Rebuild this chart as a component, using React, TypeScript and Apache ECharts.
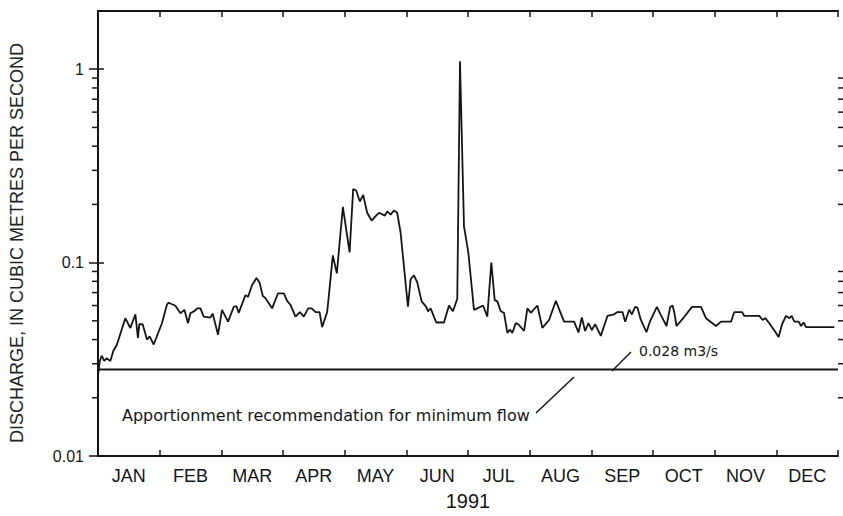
import React, { useEffect, useRef } from "react";
import * as echarts from "echarts";

const months = ["JAN", "FEB", "MAR", "APR", "MAY", "JUN", "JUL", "AUG", "SEP", "OCT", "NOV", "DEC"];
const yearLabel = "1991";
const yTitle = "DISCHARGE, IN CUBIC METRES PER SECOND";
const minFlow = 0.028;
const minFlowLabel = "0.028 m3/s";
const minFlowNote = "Apportionment recommendation for minimum flow";
const majorTickLabels: Record<string, string> = { "-2": "0.01", "-1": "0.1", "0": "1" };
const minorTickValues = [0.02, 0.03, 0.04, 0.05, 0.06, 0.07, 0.08, 0.09, 0.2, 0.3, 0.4, 0.5, 0.6, 0.7, 0.8, 0.9];

// position in months from 1 January (0 = Jan 1, 12 = Jan 1 next year)
const monthPos = [
  0.0, 0.03, 0.06, 0.1, 0.14, 0.2, 0.25, 0.307,
  0.443, 0.524, 0.606, 0.648, 0.67, 0.724, 0.794, 0.838, 0.903,
  1.037, 1.119, 1.146, 1.255, 1.336, 1.401, 1.459, 1.498, 1.568, 1.606, 1.661, 1.714, 1.823, 1.86, 1.946,
  2.011, 2.109, 2.201, 2.245, 2.282, 2.391, 2.433, 2.498, 2.57, 2.619, 2.672, 2.716, 2.823, 2.92,
  3.013, 3.067, 3.122, 3.203, 3.273, 3.338, 3.408, 3.463, 3.528, 3.593, 3.635, 3.716, 3.734, 3.808, 3.873, 3.971,
  4.08, 4.138, 4.187, 4.247, 4.3, 4.365, 4.437, 4.502, 4.555, 4.653, 4.69, 4.745, 4.799, 4.852, 4.907,
  5.026, 5.07, 5.123, 5.177, 5.248, 5.323, 5.351, 5.394, 5.485, 5.61, 5.692, 5.756, 5.826, 5.87, 5.935,
  6.005, 6.097, 6.151, 6.244, 6.313, 6.378, 6.433, 6.476, 6.531, 6.584, 6.638, 6.677, 6.719, 6.774, 6.817, 6.909, 6.963,
  7.018, 7.125, 7.206, 7.315, 7.424, 7.558, 7.721, 7.791, 7.846, 7.899, 7.953,
  8.008, 8.062, 8.154, 8.261, 8.37, 8.424, 8.505, 8.549, 8.614, 8.657, 8.711, 8.748, 8.803, 8.894, 8.95,
  9.063, 9.128, 9.219, 9.279, 9.317, 9.344, 9.382, 9.49, 9.632, 9.778, 9.859,
  10.021, 10.102, 10.265, 10.318, 10.443, 10.481, 10.724, 10.778, 10.821, 10.886, 10.968,
  11.037, 11.093, 11.157, 11.211, 11.248, 11.292, 11.362, 11.401, 11.443, 11.482, 11.942,
];

// daily discharge, m3/s
const discharge = [
  0.026, 0.031, 0.033, 0.031, 0.032, 0.031, 0.035, 0.0377,
  0.0516, 0.0459, 0.054, 0.0408, 0.0481, 0.048, 0.04, 0.0416, 0.0377,
  0.0486, 0.0608, 0.062, 0.0598, 0.0547, 0.057, 0.0486, 0.0547, 0.0563, 0.058, 0.058, 0.0526, 0.052, 0.0545, 0.0424,
  0.057, 0.0495, 0.059, 0.0595, 0.055, 0.0679, 0.0665, 0.0763, 0.0832, 0.079, 0.0673, 0.0654, 0.058, 0.0694,
  0.0694, 0.0634, 0.0604, 0.0526, 0.0555, 0.0526, 0.058, 0.058, 0.0555, 0.0555, 0.0464, 0.0555, 0.063, 0.109, 0.088, 0.194,
  0.113, 0.24, 0.236, 0.207, 0.224, 0.181, 0.165, 0.174, 0.181, 0.175, 0.184, 0.177, 0.186, 0.181, 0.143,
  0.0591, 0.082, 0.086, 0.079, 0.063, 0.059, 0.056, 0.058, 0.049, 0.049, 0.06, 0.056, 0.065, 1.1, 0.154,
  0.113, 0.057, 0.058, 0.06, 0.0526, 0.1, 0.064, 0.063, 0.056, 0.055, 0.0433, 0.045, 0.0433, 0.0486, 0.048, 0.0443, 0.058,
  0.055, 0.06, 0.046, 0.0505, 0.0634, 0.0495, 0.0495, 0.0435, 0.052, 0.0443, 0.0486,
  0.0448, 0.048, 0.0418, 0.053, 0.054, 0.0555, 0.0555, 0.0495, 0.057, 0.054, 0.059, 0.0585, 0.0505, 0.0437, 0.0495,
  0.059, 0.0535, 0.047, 0.059, 0.06, 0.0555, 0.047, 0.0516, 0.059, 0.059, 0.0516,
  0.047, 0.0495, 0.0495, 0.0555, 0.0555, 0.053, 0.053, 0.0505, 0.0516, 0.0486, 0.0445,
  0.0412, 0.048, 0.053, 0.0516, 0.053, 0.0495, 0.0495, 0.047, 0.049, 0.0464, 0.0464,
];

const INK = "#151515";

export default function App() {
  const ref = useRef<HTMLDivElement>(null);

  useEffect(() => {
    if (!ref.current) return;
    const chart = echarts.init(ref.current, undefined, { renderer: "svg" });

    const lineData = monthPos.map((m, i) => [m, discharge[i]]);
    const minFlowData = [[0, minFlow], [12, minFlow]];
    const minorData = minorTickValues.map((v) => [0, v]);

    const fmtY = (v: number) => {
      const e = Math.log10(v);
      const r = Math.round(e);
      if (Math.abs(e - r) > 1e-6) return "";
      return majorTickLabels[String(r)] ?? "";
    };

    chart.setOption({
      animation: false,
      backgroundColor: "#ffffff",
      grid: { left: 98, right: 5, top: 11, bottom: 53, containLabel: false },
      xAxis: [
        {
          type: "value",
          min: 0,
          max: 12,
          interval: 1,
          position: "bottom",
          axisLine: { show: true, lineStyle: { color: INK, width: 2 } },
          axisTick: { show: true, inside: true, length: 6, lineStyle: { color: INK, width: 1.5 } },
          axisLabel: { show: false },
          splitLine: { show: false },
        },
        {
          type: "value",
          min: 0,
          max: 12,
          interval: 1,
          position: "top",
          axisLine: { show: true, lineStyle: { color: INK, width: 2 } },
          axisTick: { show: true, inside: true, length: 6, lineStyle: { color: INK, width: 1.5 } },
          axisLabel: { show: false },
          splitLine: { show: false },
        },
        {
          type: "category",
          data: months,
          position: "bottom",
          boundaryGap: true,
          axisLine: { show: false },
          axisTick: { show: false },
          splitLine: { show: false },
          axisLabel: {
            show: true,
            interval: 0,
            margin: 11,
            color: INK,
            fontSize: 18,
            fontFamily: "Liberation Sans",
          },
          name: yearLabel,
          nameLocation: "middle",
          nameGap: 35,
          nameTextStyle: { color: INK, fontSize: 20, fontFamily: "Liberation Sans", padding: 0 },
        },
      ],
      yAxis: [
        {
          type: "log",
          logBase: 10,
          min: 0.01,
          max: 2,
          position: "left",
          axisLine: { show: true, lineStyle: { color: INK, width: 2 } },
          axisTick: { show: true, inside: false, length: 9, lineStyle: { color: INK, width: 1.5 } },
          axisLabel: {
            show: true,
            margin: 14,
            color: INK,
            fontSize: 16,
            fontFamily: "Liberation Sans",
            formatter: fmtY,
            showMaxLabel: false,
          },
          splitLine: { show: false },
          minorTick: { show: false },
        },
        {
          type: "log",
          logBase: 10,
          min: 0.01,
          max: 2,
          position: "right",
          axisLine: { show: true, lineStyle: { color: INK, width: 2 } },
          axisTick: { show: true, inside: false, length: 6, lineStyle: { color: INK, width: 1.5 } },
          axisLabel: { show: false },
          splitLine: { show: false },
        },
      ],
      series: [
        {
          type: "line",
          xAxisIndex: 0,
          yAxisIndex: 0,
          data: lineData,
          showSymbol: false,
          symbol: "none",
          lineStyle: { color: INK, width: 1.8 },
          silent: true,
        },
        {
          type: "line",
          xAxisIndex: 0,
          yAxisIndex: 0,
          data: minFlowData,
          showSymbol: false,
          symbol: "none",
          lineStyle: { color: INK, width: 1.8 },
          silent: true,
        },
        {
          type: "custom",
          xAxisIndex: 0,
          yAxisIndex: 0,
          clip: false,
          silent: true,
          data: minorData,
          renderItem: (params: any, api: any) => {
            const v = api.value(1);
            const p = api.coord([0, v]);
            const q = api.coord([12, v]);
            return {
              type: "group",
              children: [
                {
                  type: "line",
                  shape: { x1: p[0] - 6, y1: p[1], x2: p[0], y2: p[1] },
                  style: { stroke: INK, lineWidth: 1.5 },
                },
                {
                  type: "line",
                  shape: { x1: q[0], y1: q[1], x2: q[0] + 6, y2: q[1] },
                  style: { stroke: INK, lineWidth: 1.5 },
                },
              ],
            };
          },
        },
      ],
      graphic: [
        {
          type: "text",
          x: 17,
          y: 243,
          rotation: Math.PI / 2,
          style: {
            text: yTitle,
            fill: "#222",
            fontSize: 18,
            fontFamily: "Liberation Sans",
            align: "center",
            verticalAlign: "middle",
          },
        },
        {
          type: "text",
          x: 122,
          y: 415,
          style: {
            text: minFlowNote,
            fill: INK,
            fontSize: 16,
            fontFamily: "DejaVu Sans",
            align: "left",
            verticalAlign: "middle",
          },
        },
        {
          type: "line",
          shape: { x1: 536, y1: 413, x2: 574, y2: 377 },
          style: { stroke: INK, lineWidth: 1.5 },
        },
        {
          type: "line",
          shape: { x1: 612, y1: 371, x2: 631, y2: 352 },
          style: { stroke: INK, lineWidth: 1.5 },
        },
        {
          type: "text",
          x: 639,
          y: 351,
          style: {
            text: minFlowLabel,
            fill: INK,
            fontSize: 14,
            fontFamily: "DejaVu Sans",
            align: "left",
            verticalAlign: "middle",
          },
        },
      ],
    });

    return () => chart.dispose();
  }, []);

  return (
    <div
      ref={ref}
      style={{ position: "fixed", left: 0, top: 0, width: 843, height: 516, background: "#fff" }}
    />
  );
}
